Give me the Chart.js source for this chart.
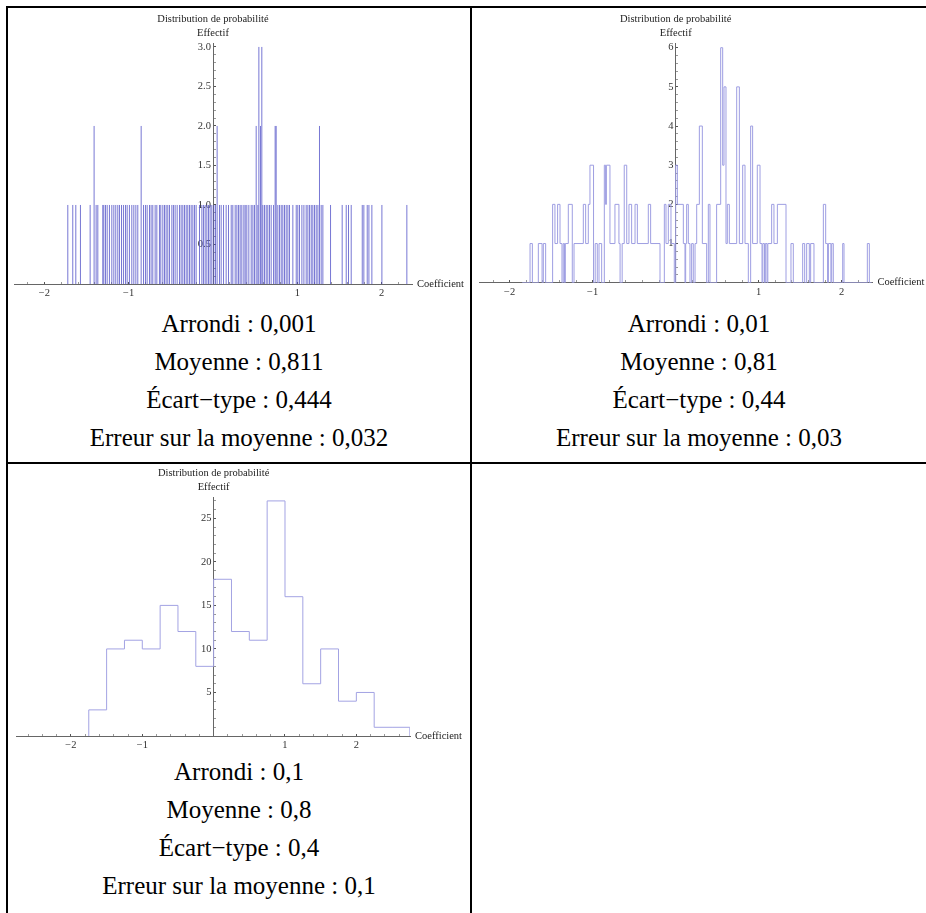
<!DOCTYPE html>
<html><head><meta charset="utf-8">
<script src="https://cdn.jsdelivr.net/npm/chart.js@4.4.0/dist/chart.umd.min.js"></script>
<style>
html,body{margin:0;padding:0;background:#fff;}
body{width:926px;height:913px;overflow:hidden;position:relative;font-family:'Liberation Serif','Times New Roman',serif;}
.rule{position:absolute;background:#000;}
.cv{position:absolute;}
.stats{position:absolute;text-align:center;font-size:25px;line-height:38.2px;color:#000;white-space:nowrap;}
</style></head><body>
<div class="rule" style="left:6px;top:6px;width:920px;height:2px"></div>
<div class="rule" style="left:6px;top:6px;width:2px;height:907px"></div>
<div class="rule" style="left:470px;top:6px;width:2px;height:907px"></div>
<div class="rule" style="left:6px;top:462px;width:920px;height:2px"></div>

<canvas id="c1" class="cv" width="462" height="292" style="left:8px;top:9px"></canvas>
<canvas id="c2" class="cv" width="454" height="292" style="left:472px;top:9px"></canvas>
<canvas id="c3" class="cv" width="462" height="285" style="left:8px;top:465px"></canvas>

<div id="s1" class="stats" style="left:8px;top:304.6px;width:462px"></div>
<div id="s2" class="stats" style="left:472px;top:304.6px;width:454px"></div>
<div id="s3" class="stats" style="left:8px;top:752.6px;width:462px"></div>

<script>
// ---------- texts ----------
const plotTitle = "Distribution de probabilité";
const yAxisLabel = "Effectif";
const xAxisLabel = "Coefficient";
const stats1 = ["Arrondi : 0,001", "Moyenne : 0,811", "Écart\u2212type : 0,444", "Erreur sur la moyenne : 0,032"];
const stats2 = ["Arrondi : 0,01", "Moyenne : 0,81", "Écart\u2212type : 0,44", "Erreur sur la moyenne : 0,03"];
const stats3 = ["Arrondi : 0,1", "Moyenne : 0,8", "Écart\u2212type : 0,4", "Erreur sur la moyenne : 0,1"];

// ---------- chart 1 : rounding 0.001 (spikes) ----------
const spikePositions = [
  -1.722,-1.663,-1.627,-1.572,-1.457,-1.410,-1.386,-1.366,-1.307,-1.295,-1.275,-1.255,-1.228,-1.200,-1.176,-1.153,
  -1.129,-1.109,-1.085,-1.062,-1.038,-1.018,-0.991,-0.963,-0.939,-0.915,-0.892,-0.852,-0.824,-0.801,-0.781,-0.753,
  -0.734,-0.714,-0.686,-0.666,-0.635,-0.619,-0.595,-0.575,-0.556,-0.536,-0.516,-0.488,-0.469,-0.449,-0.425,-0.397,
  -0.378,-0.358,-0.338,-0.318,-0.299,-0.279,-0.259,-0.239,-0.219,-0.200,-0.160,-0.132,-0.113,-0.093,-0.073,-0.053,
  -0.034,-0.014,0.010,0.030,0.049,0.077,0.097,0.125,0.156,0.184,0.216,0.235,0.263,0.283,0.303,0.322,0.342,0.366,
  0.382,0.401,0.425,0.453,0.473,0.492,0.512,0.532,0.544,0.563,0.579,0.591,0.611,0.631,0.650,0.670,0.690,0.718,
  0.737,0.749,0.769,0.789,0.809,0.828,0.848,0.868,0.888,0.907,0.947,0.987,1.006,1.026,1.054,1.078,1.105,1.125,
  1.145,1.165,1.184,1.204,1.224,1.244,1.263,1.283,1.303,1.394,1.532,1.580,1.607,1.639,1.770,1.789,1.829,1.849,
  1.884,2.003,2.299
];
const spikeCounts = [
  1,1,1,1,1,2,1,1,1,1,1,1,1,1,1,1,
  1,1,1,1,1,1,1,1,1,1,1,2,1,1,1,1,
  1,1,1,1,1,1,1,1,1,1,1,1,1,1,1,1,
  1,1,1,1,1,1,1,1,1,1,1,1,1,1,1,1,
  1,1,1,1,2,1,1,1,1,1,1,1,1,1,1,1,1,1,
  1,1,1,1,1,1,2,1,3,2,3,1,1,1,1,1,1,1,
  2,2,1,1,1,1,1,1,1,1,1,1,1,1,1,1,1,1,
  1,1,1,1,1,1,2,1,1,1,1,1,1,1,1,1,1,1,
  1,1,1
];

// ---------- chart 2 : rounding 0.01 (step histogram) ----------
const hist2Edges = [
  -1.85,-1.755,-1.727,-1.655,-1.61,-1.595,-1.567,-1.483,-1.455,-1.423,-1.394,-1.37,-1.355,-1.34,-1.33,-1.294,
  -1.246,-1.225,-1.113,-1.085,-1.053,-1.033,-0.99,-0.97,-0.945,-0.924,-0.892,-0.86,-0.845,-0.835,-0.792,-0.732,
  -0.684,-0.67,-0.645,-0.62,-0.59,-0.563,-0.531,-0.49,-0.462,-0.33,-0.302,-0.189,-0.137,-0.117,-0.089,-0.057,
  -0.017,0,0.02,0.092,0.112,0.12,0.132,0.152,0.172,0.192,0.212,0.233,0.253,0.285,0.321,0.373,0.393,0.413,
  0.493,0.542,0.566,0.582,0.606,0.622,0.646,0.735,0.767,0.807,0.835,0.875,0.903,0.927,0.983,1.016,1.04,1.05,
  1.07,1.08,1.1,1.11,1.156,1.184,1.225,1.329,1.389,1.417,1.53,1.554,1.578,1.61,1.626,1.666,1.779,1.807,
  1.83,1.84,1.87,1.88,1.899,2.012,2.028,2.309,2.333,2.36
];
const hist2Counts = [
  0,1,0,1,0,1,0,2,1,2,1,0,1,0,1,2,
  0,1,2,1,2,3,0,1,0,1,0,3,2,3,1,2,
  1,0,1,3,1,2,1,2,1,2,1,0,2,1,2,1,
  0,3,2,1,0,1,2,1,0,1,0,1,2,4,1,0,2,0,
  2,6,3,5,1,2,1,5,1,3,1,0,4,1,3,1,0,1,
  0,1,0,1,2,1,2,0,1,0,1,0,1,0,1,0,2,1,
  0,1,0,1,0,1,0,1,0
];

// ---------- chart 3 : rounding 0.1 (bins of 0.25) ----------
const hist3Edges = [-1.75,-1.5,-1.25,-1,-0.75,-0.5,-0.25,0,0.25,0.5,0.75,1,1.25,1.5,1.75,2,2.25,2.5,2.75];
const hist3Counts = [3,10,11,10,15,12,8,18,12,11,27,16,6,10,4,5,1,1];

// ---------- helpers ----------
const FONT = "'Liberation Serif', 'Times New Roman', serif";
function fillStats(id, lines){ document.getElementById(id).innerHTML = lines.map(l => '<div>' + l + '</div>').join(''); }
fillStats('s1', stats1); fillStats('s2', stats2); fillStats('s3', stats3);

function near(v, m){ const q = v / m; return Math.abs(q - Math.round(q)) < 1e-6; }
function fmtNum(v, dec){ const s = Math.abs(v).toFixed(dec); return (v < 0 ? '\u2212' : '') + s; }

const axisText = {
  id: 'axisText',
  afterDraw(chart, args, opts) {
    const {ctx, chartArea, scales} = chart;
    const x0 = scales.x.getPixelForValue(0);
    const y0 = scales.y.getPixelForValue(0);
    ctx.save();
    ctx.font = '10.5px ' + FONT;
    ctx.fillStyle = '#222';
    ctx.textAlign = 'center';
    ctx.textBaseline = 'middle';
    ctx.fillText(opts.title, x0, chartArea.top - 24);
    ctx.fillText(opts.yLabel, x0, chartArea.top - 10);
    ctx.textAlign = 'left';
    ctx.fillText(opts.xLabel, chartArea.right + 5, y0);
    ctx.restore();
  }
};

function makeOptions(cfg) {
  return {
    responsive: false, animation: false, devicePixelRatio: 1,
    layout: { padding: cfg.padding },
    plugins: { legend: {display:false}, tooltip: {enabled:false},
      axisText: { title: plotTitle, yLabel: yAxisLabel, xLabel: xAxisLabel } },
    elements: { point: { radius: 0 } },
    scales: {
      x: {
        type: 'linear', min: cfg.xMin, max: cfg.xMax, position: { y: 0 },
        afterFit: s => { s.height = 0; },
        grid: { drawOnChartArea: false, drawTicks: true, tickLength: -3, offset: false,
          tickColor: c => near(c.tick.value, 1) ? '#555' : '#999', tickWidth: 1 },
        border: { display: true, color: '#666', width: 1 },
        ticks: { stepSize: 0.2, autoSkip: false, includeBounds: false, maxRotation: 0, minRotation: 0,
          padding: 6, color: '#333', font: { family: FONT, size: 10.5 },
          callback: v => (Math.abs(v) < 1e-9 || !near(v, 1)) ? '' : fmtNum(Math.round(v), 0) }
      },
      y: {
        type: 'linear', min: 0, max: cfg.yMax, position: { x: 0 },
        afterFit: s => { s.width = 0; },
        grid: { drawOnChartArea: false, drawTicks: true, tickLength: -3,
          tickColor: c => near(c.tick.value, cfg.yMajor) ? '#555' : '#999', tickWidth: 1 },
        border: { display: true, color: '#666', width: 1 },
        ticks: { stepSize: cfg.yMinor, autoSkip: false, includeBounds: false,
          padding: 3, color: '#333', font: { family: FONT, size: 10.5 },
          callback: v => (Math.abs(v) < 1e-9 || !near(v, cfg.yMajor)) ? '' : fmtNum(v, cfg.yDec) + '\u2009' }
      }
    }
  };
}

// chart 1 spikes: each spike a vertical segment, separated by gaps
const spikeData = [];
spikePositions.forEach((p, i) => {
  spikeData.push({x: p, y: 0}, {x: p, y: spikeCounts[i]}, {x: p, y: null});
});
new Chart(document.getElementById('c1'), {
  type: 'scatter',
  data: { datasets: [{ data: spikeData, showLine: true, spanGaps: false,
    borderColor: 'rgba(85,85,200,0.8)', borderWidth: 1, pointRadius: 0 }] },
  options: makeOptions({ padding: {left:6, right:58, top:34, bottom:17},
    xMin: -2.36, xMax: 2.36, yMax: 3.05, yMinor: 0.1, yMajor: 0.5, yDec: 1 }),
  plugins: [axisText]
});

function stepData(edges, counts) {
  const d = [{x: edges[0], y: 0}];
  counts.forEach((c, i) => d.push({x: edges[i], y: c}));
  d.push({x: edges[edges.length - 1], y: 0});
  return d;
}

new Chart(document.getElementById('c2'), {
  type: 'scatter',
  data: { datasets: [{ data: stepData(hist2Edges, hist2Counts), showLine: true, stepped: 'before',
    borderColor: '#9e9ee2', borderWidth: 1, pointRadius: 0 }] },
  options: makeOptions({ padding: {left:7, right:53.6, top:34, bottom:18.3},
    xMin: -2.37, xMax: 2.37, yMax: 6.12, yMinor: 0.2, yMajor: 1, yDec: 0 }),
  plugins: [axisText]
});

new Chart(document.getElementById('c3'), {
  type: 'scatter',
  data: { datasets: [{ data: stepData(hist3Edges, hist3Counts), showLine: true, stepped: 'before',
    borderColor: '#a3a3e3', borderWidth: 1, pointRadius: 0 }] },
  options: makeOptions({ padding: {left:8, right:60, top:32, bottom:14},
    xMin: -2.77, xMax: 2.752, yMax: 27.45, yMinor: 1, yMajor: 5, yDec: 0 }),
  plugins: [axisText]
});
</script>
</body></html>
